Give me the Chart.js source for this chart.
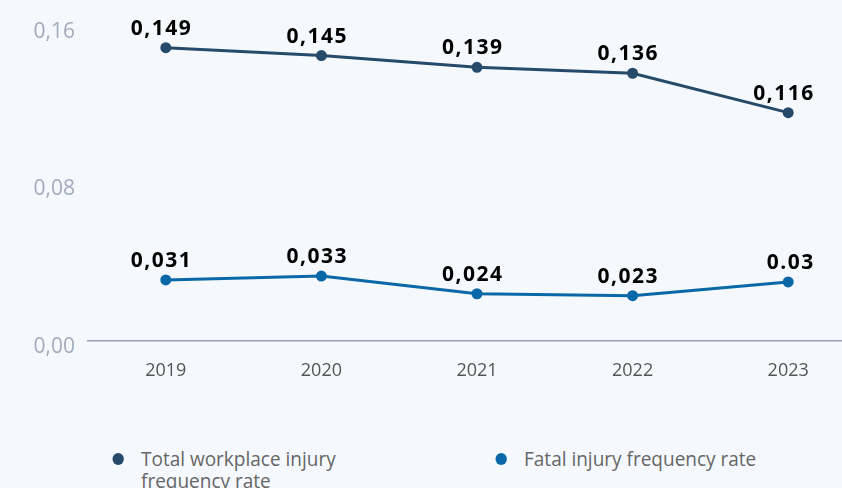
<!DOCTYPE html>
<html>
    <head>
        <meta charset="UTF-8">
        <title>Injury frequency rates</title>
        <script src="https://cdn.jsdelivr.net/npm/chart.js"></script>
        <style>
            html, body { margin: 0; padding: 0; background: #f5f9fd; overflow: hidden; }
            #zone { position: relative; width: 842px; height: 488px; overflow: hidden; }
            #boite { position: absolute; left: 0; top: 0; width: 880px; height: 400px; }
            .legende { position: absolute; top: 448px; font-family: "Open Sans", sans-serif; font-size: 20px; line-height: 22px; color: #666; transform: scaleX(0.95); transform-origin: left top; }
            .legende .pastille { position: absolute; left: -30px; top: 5px; width: 12px; height: 12px; border-radius: 50%; }
        </style>
    </head>
    <body>
        <div id="zone">
            <div id="boite"><canvas id="graphe"></canvas></div>
            <div class="legende" style="left: 141px; width: 215px;"><span class="pastille" style="background:#264a6a"></span>Total workplace injury frequency rate</div>
            <div class="legende" style="left: 524px; width: 300px;"><span class="pastille" style="background:#0b68a8"></span>Fatal injury frequency rate</div>
        </div>

        <script>
            // données
            const annees = ["2019", "2020", "2021", "2022", "2023"];
            const tauxTotal = [0.149, 0.145, 0.139, 0.136, 0.116];
            const tauxMortel = [0.031, 0.033, 0.024, 0.023, 0.030];
            const etiquettesTotal = ["0,149", "0,145", "0,139", "0,136", "0,116"];
            const etiquettesMortel = ["0,031", "0,033", "0,024", "0,023", "0.03"];
            const graduations = { 0: "0,00", 0.08: "0,08", 0.16: "0,16" };

            // étiquettes au-dessus des points (alignées à droite)
            const pluginEtiquettes = {
                id: 'etiquettes',
                afterDatasetsDraw(chart) {
                    const ctx = chart.ctx;
                    ctx.save();
                    ctx.font = 'bold 21px "Open Sans"';
                    ctx.letterSpacing = '1.5px';
                    ctx.fillStyle = '#000';
                    ctx.textAlign = 'right';
                    ctx.textBaseline = 'middle';
                    chart.data.datasets.forEach(function (ds, i) {
                        chart.getDatasetMeta(i).data.forEach(function (pt, j) {
                            ctx.fillText(ds.etiquettes[j], pt.x + 26.5, pt.y - 19);
                        });
                    });
                    ctx.restore();
                }
            };

            const ctx = document.getElementById("graphe").getContext("2d");
            const chart = new Chart(ctx, {
                type: "line",
                data: {
                    labels: annees,
                    datasets: [
                        {
                            data: tauxTotal,
                            etiquettes: etiquettesTotal,
                            borderColor: "#264a6a",
                            backgroundColor: "#264a6a",
                            borderWidth: 3,
                            pointRadius: 4,
                            tension: 0
                        },
                        {
                            data: tauxMortel,
                            etiquettes: etiquettesMortel,
                            borderColor: "#0b68a8",
                            backgroundColor: "#0b68a8",
                            borderWidth: 3,
                            pointRadius: 4,
                            tension: 0
                        }
                    ]
                },
                options: {
                    responsive: true,
                    maintainAspectRatio: false,
                    animation: false,
                    layout: { padding: { top: 26, right: 14, left: 0, bottom: 0 } },
                    plugins: { legend: { display: false }, tooltip: { enabled: false } },
                    scales: {
                        x: {
                            offset: true,
                            grid: { display: false, drawTicks: false },
                            border: { display: true, color: "#9aa3b6", width: 1.5 },
                            ticks: { color: "#555", font: { family: "Open Sans", size: 18 }, padding: 19 },
                            afterFit(scale) { scale.height = 59; }
                        },
                        y: {
                            min: 0,
                            max: 0.16,
                            grid: { display: false, drawTicks: false },
                            border: { display: false },
                            ticks: {
                                stepSize: 0.08,
                                color: "#a2aabd",
                                font: { family: "Open Sans", size: 21 },
                                padding: 13,
                                labelOffset: 6,
                                callback: function (v) { return graduations[Math.round(v * 100) / 100]; }
                            },
                            afterFit(scale) { scale.width = 88; }
                        }
                    }
                },
                plugins: [pluginEtiquettes]
            });
        </script>
    </body>
</html>
